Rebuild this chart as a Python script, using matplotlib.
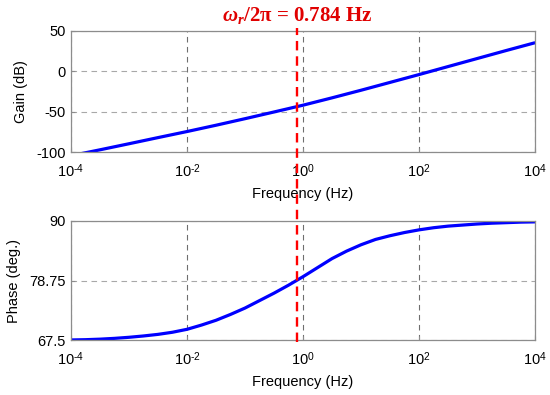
import numpy as np
import matplotlib
matplotlib.use("Agg")
import matplotlib.pyplot as plt
import matplotlib.transforms as mtransforms
from matplotlib.lines import Line2D
from matplotlib.ticker import FixedLocator, FuncFormatter, NullLocator

plt.rcParams['font.family'] = ['Liberation Sans', 'DejaVu Sans']
plt.rcParams['mathtext.fontset'] = 'custom'
plt.rcParams['mathtext.rm'] = 'Liberation Sans'
plt.rcParams['mathtext.it'] = 'Liberation Serif:italic:bold'
plt.rcParams['mathtext.bf'] = 'Liberation Sans:bold'
plt.rcParams['axes.unicode_minus'] = False

# ---- data ----
gain_logf = [-4.0, -3.5, -3.0, -2.5, -2.0, -1.5, -1.0, -0.5, 0.0, 0.5, 1.0, 1.5, 2.0, 2.5, 3.0, 3.5, 4.0]
gain_db = [-104.5, -97.2, -89.7, -82.1, -74.6, -66.8, -58.7, -50.4, -42.0, -32.9, -23.5, -13.8, -4.1, 5.8, 15.7, 25.6, 35.3]

phase_logf = [-4.0, -3.75, -3.5, -3.25, -3.0, -2.75, -2.5, -2.25, -2.0, -1.75, -1.5, -1.25, -1.0,
              -0.75, -0.5, -0.25, 0.0, 0.25, 0.5, 0.75, 1.0, 1.25, 1.5, 1.75, 2.0, 2.25, 2.5,
              2.75, 3.0, 3.25, 3.5, 3.75, 4.0]
phase_deg = [67.6, 67.65, 67.75, 67.9, 68.1, 68.35, 68.65, 69.05, 69.6, 70.4, 71.3, 72.4, 73.6,
             75.0, 76.4, 77.9, 79.5, 81.2, 82.9, 84.3, 85.5, 86.5, 87.2, 87.8, 88.3, 88.7, 89.0,
             89.2, 89.4, 89.55, 89.65, 89.75, 89.8]

f_r = 0.784
xticks = [1e-4, 1e-2, 1e0, 1e2, 1e4]
gain_yticks = [-100, -50, 0, 50]
phase_yticks = [67.5, 78.75, 90]
phase_yticklabels = ['67.5', '78.75', '90']

title_text = r'$\omega_r$/2π = 0.784 Hz'

# ---- figure ----
fig = plt.figure(figsize=(5.5, 3.95), dpi=100)
ax1 = fig.add_axes([0.129, 0.615, 0.844, 0.307])
ax2 = fig.add_axes([0.129, 0.138, 0.844, 0.303])

spine_col = '#8c8c8c'

def fmt(v, p):
    e = int(round(np.log10(v)))
    if e < 0:
        return r'$10^{\text{-}%d}$' % (-e)
    return r'$10^{%d}$' % e

def style(ax):
    ax.set_xscale('log')
    ax.set_xlim(1e-4, 1e4)
    ax.xaxis.set_major_locator(FixedLocator(xticks))
    ax.xaxis.set_minor_locator(NullLocator())
    ax.xaxis.set_major_formatter(FuncFormatter(fmt))
    for s in ax.spines.values():
        s.set_color(spine_col)
        s.set_linewidth(0.9)
    ax.tick_params(direction='in', length=3, color=spine_col, labelsize=10.5, top=False, right=False)
    ax.tick_params(axis='x', pad=7)
    ax.tick_params(axis='y', pad=4)
    ax.xaxis.grid(True, linestyle=(0, (5, 4)), color='#6e6e6e', linewidth=0.8)
    ax.yaxis.grid(True, linestyle=(0, (5, 4)), color='#a8a8a8', linewidth=0.8)
    ax.set_axisbelow(True)
    ax.set_xlabel('Frequency (Hz)', fontsize=10.5, labelpad=5)

style(ax1)
ax1.plot(10 ** np.array(gain_logf), gain_db, color='#0000ff', linewidth=2.3, solid_capstyle='butt')
ax1.set_ylim(-100, 50)
ax1.set_yticks(gain_yticks)
ax1.set_ylabel('Gain (dB)', fontsize=10.5, labelpad=6)

style(ax2)
ax2.plot(10 ** np.array(phase_logf), phase_deg, color='#0000ff', linewidth=2.3, solid_capstyle='butt')
ax2.set_ylim(67.5, 90)
ax2.set_yticks(phase_yticks)
ax2.set_yticklabels(phase_yticklabels)
ax2.set_ylabel('Phase (deg.)', fontsize=10.5, labelpad=6)

# red dashed marker spanning both panels
trans = mtransforms.blended_transform_factory(ax1.transData, fig.transFigure)
ln = Line2D([f_r, f_r], [0.135, 0.93], transform=trans, color='#ff0000',
            linewidth=1.7, linestyle=(0, (4, 2.5)), zorder=10)
fig.add_artist(ln)

fig.text(0.54, 0.962, title_text, color='#e00000', fontsize=15, fontweight='bold',
         family='Liberation Serif', ha='center', va='center')

fig.savefig('out.png', dpi=100)
